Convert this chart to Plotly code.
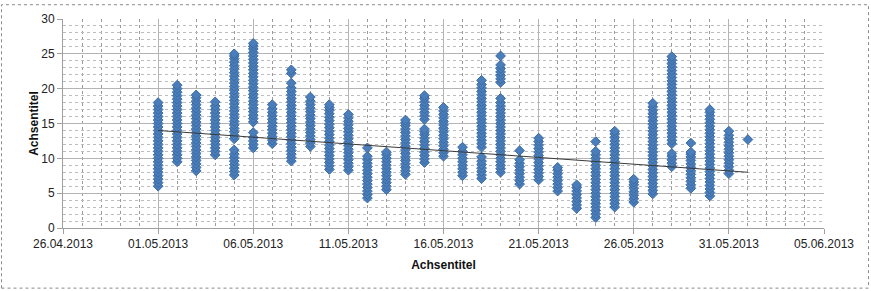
import plotly.graph_objects as go

# ---- data ----
day_labels = ["2013-05-01", "2013-05-02", "2013-05-03", "2013-05-04", "2013-05-05",
              "2013-05-06", "2013-05-07", "2013-05-08", "2013-05-09", "2013-05-10",
              "2013-05-11", "2013-05-12", "2013-05-13", "2013-05-14", "2013-05-15",
              "2013-05-16", "2013-05-17", "2013-05-18", "2013-05-19", "2013-05-20",
              "2013-05-21", "2013-05-22", "2013-05-23", "2013-05-24", "2013-05-25",
              "2013-05-26", "2013-05-27", "2013-05-28", "2013-05-29", "2013-05-30",
              "2013-05-31", "2013-06-01"]

v_0105 = [6.0, 6.5, 7.0, 7.5, 8.0, 8.5, 9.0, 9.5, 10.0, 10.5, 11.0, 11.5, 12.0, 12.5, 13.0, 13.5,
          14.0, 14.5, 15.0, 15.5, 16.0, 16.5, 17.0, 17.5, 18.0]
v_0205 = [9.5, 10.0, 10.5, 11.0, 11.5, 12.0, 12.5, 13.0, 13.5, 14.0, 14.5, 15.0, 15.5, 16.0, 16.5,
          17.0, 17.5, 18.0, 18.5, 19.0, 19.5, 20.0, 20.5]
v_0305 = [8.2, 8.7, 9.2, 9.7, 10.2, 10.7, 11.2, 11.7, 12.2, 12.7, 13.2, 13.7, 14.2, 14.7, 15.2,
          15.7, 16.2, 16.7, 17.2, 17.7, 18.2, 18.7, 19.1]
v_0405 = [10.5, 11.0, 11.5, 12.0, 12.5, 13.0, 13.5, 14.0, 14.5, 15.0, 15.5, 16.0, 16.5, 17.0,
          17.5, 18.1]
v_0505 = [7.6, 8.1, 8.6, 9.1, 9.6, 10.1, 10.6, 11.2, 12.8, 13.3, 13.8, 14.3, 14.8, 15.3, 15.8,
          16.3, 16.8, 17.3, 17.8, 18.3, 18.8, 19.3, 19.8, 20.3, 20.8, 21.3, 21.8, 22.3, 22.8,
          23.3, 23.8, 24.3, 24.7, 25.0]
v_0605 = [11.5, 12.0, 12.5, 13.0, 13.7, 15.2, 15.7, 16.2, 16.7, 17.2, 17.7, 18.2, 18.7, 19.2,
          19.7, 20.2, 20.7, 21.2, 21.7, 22.2, 22.7, 23.2, 23.7, 24.2, 24.7, 25.2, 25.7, 26.1, 26.5]
v_0705 = [12.1, 12.6, 13.1, 13.6, 14.1, 14.6, 15.1, 15.6, 16.1, 16.6, 17.1, 17.7]
v_0805 = [9.6, 10.1, 10.6, 11.1, 11.6, 12.1, 12.6, 13.1, 13.6, 14.1, 14.6, 15.1, 15.6, 16.1,
          16.6, 17.1, 17.6, 18.1, 18.6, 19.1, 19.6, 20.1, 20.8, 22.2, 22.7]
v_0905 = [11.7, 12.2, 12.7, 13.2, 13.7, 14.2, 14.7, 15.2, 15.7, 16.2, 16.7, 17.2, 17.7, 18.2, 18.8]
v_1005 = [8.4, 8.9, 9.4, 9.9, 10.4, 10.9, 11.4, 11.9, 12.4, 12.9, 13.4, 13.9, 14.4, 14.9, 15.4,
          15.9, 16.4, 16.9, 17.3, 17.7]
v_1105 = [8.3, 8.8, 9.3, 9.8, 10.3, 10.8, 11.3, 11.8, 12.3, 12.8, 13.3, 13.8, 14.3, 14.8, 15.3,
          15.8, 16.3]
v_1205 = [4.3, 4.8, 5.3, 5.8, 6.3, 6.8, 7.3, 7.8, 8.3, 8.8, 9.3, 9.8, 10.3, 11.5]
v_1305 = [5.5, 6.0, 6.5, 7.0, 7.5, 8.0, 8.5, 9.0, 9.5, 10.0, 10.5, 10.9]
v_1405 = [7.7, 8.2, 8.7, 9.2, 9.7, 10.2, 10.7, 11.2, 11.7, 12.2, 12.7, 13.2, 13.7, 14.2, 14.7,
          15.1, 15.5]
v_1505 = [9.4, 9.9, 10.4, 10.9, 11.4, 11.9, 12.4, 12.9, 13.4, 13.8, 14.2, 15.6, 16.1, 16.6,
          17.1, 17.6, 18.1, 18.6, 19.0]
v_1605 = [10.3, 10.8, 11.3, 11.8, 12.3, 12.8, 13.3, 13.8, 14.3, 14.8, 15.3, 15.8, 16.3, 16.8, 17.3]
v_1705 = [7.5, 8.0, 8.5, 9.0, 9.5, 10.0, 10.5, 11.0, 11.6]
v_1805 = [7.1, 7.6, 8.1, 8.6, 9.1, 9.6, 10.2, 11.6, 12.1, 12.6, 13.1, 13.6, 14.1, 14.6, 15.1,
          15.6, 16.1, 16.6, 17.1, 17.6, 18.1, 18.6, 19.1, 19.6, 20.1, 20.6, 21.2]
v_1905 = [8.0, 8.5, 9.0, 9.5, 10.0, 10.5, 11.0, 11.5, 12.0, 12.5, 13.0, 13.5, 14.0, 14.5, 15.0,
          15.5, 16.0, 16.5, 17.0, 17.5, 18.0, 18.6, 20.9, 21.4, 21.9, 22.4, 22.9, 23.4, 24.7]
v_2005 = [6.3, 6.8, 7.3, 7.8, 8.3, 8.8, 9.3, 9.8, 11.1]
v_2105 = [6.9, 7.4, 7.9, 8.4, 8.9, 9.4, 9.9, 10.4, 10.9, 11.4, 11.9, 12.4, 12.9]
v_2205 = [5.3, 5.8, 6.3, 6.8, 7.3, 7.8, 8.3, 8.7]
v_2305 = [2.8, 3.3, 3.8, 4.3, 4.8, 5.3, 5.8, 6.2]
v_2405 = [1.5, 2.0, 2.5, 3.0, 3.5, 4.0, 4.5, 5.0, 5.5, 6.0, 6.5, 7.0, 7.5, 8.0, 8.5, 9.0, 9.5,
          10.0, 10.5, 11.0, 12.4]
v_2505 = [3.0, 3.5, 4.0, 4.5, 5.0, 5.5, 6.0, 6.5, 7.0, 7.5, 8.0, 8.5, 9.0, 9.5, 10.0, 10.5, 11.0,
          11.5, 12.0, 12.5, 13.0, 13.5, 13.9]
v_2605 = [3.7, 4.2, 4.7, 5.2, 5.7, 6.2, 6.6, 7.0]
v_2705 = [4.9, 5.4, 5.9, 6.4, 6.9, 7.4, 7.9, 8.4, 8.9, 9.4, 9.9, 10.4, 10.9, 11.4, 11.9, 12.4,
          12.9, 13.4, 13.9, 14.4, 14.9, 15.4, 15.9, 16.4, 16.9, 17.4, 17.9]
v_2805 = [8.8, 9.3, 9.8, 10.3, 10.7, 12.1, 12.6, 13.1, 13.6, 14.1, 14.6, 15.1, 15.6, 16.1, 16.6,
          17.1, 17.6, 18.1, 18.6, 19.1, 19.6, 20.1, 20.6, 21.1, 21.6, 22.1, 22.6, 23.1, 23.6,
          24.1, 24.6]
v_2905 = [5.7, 6.2, 6.7, 7.2, 7.7, 8.2, 8.7, 9.2, 9.7, 10.2, 10.6, 10.9, 12.2]
v_3005 = [4.6, 5.1, 5.6, 6.1, 6.6, 7.1, 7.6, 8.1, 8.6, 9.1, 9.6, 10.1, 10.6, 11.1, 11.6, 12.1,
          12.6, 13.1, 13.6, 14.1, 14.6, 15.1, 15.6, 16.1, 16.6, 17.0]
v_3105 = [7.8, 8.3, 8.8, 9.3, 9.8, 10.3, 10.8, 11.3, 11.8, 12.3, 12.8, 13.3, 13.9]
v_0106 = [12.7]

day_values = [v_0105, v_0205, v_0305, v_0405, v_0505, v_0605, v_0705, v_0805, v_0905, v_1005,
              v_1105, v_1205, v_1305, v_1405, v_1505, v_1605, v_1705, v_1805, v_1905, v_2005,
              v_2105, v_2205, v_2305, v_2405, v_2505, v_2605, v_2705, v_2805, v_2905, v_3005,
              v_3105, v_0106]

trend_x = ["2013-05-01", "2013-06-01"]
trend_y = [14.0, 8.0]

x_range = ["2013-04-26", "2013-06-05"]

# ---- build point lists ----
xs, ys = [], []
for d, vals in zip(day_labels, day_values):
    for v in vals:
        xs.append(d)
        ys.append(v)

FONT = "Liberation Sans, Arial, sans-serif"
DAY = 86400000

fig = go.Figure()
fig.add_trace(go.Scatter(
    x=xs, y=ys, mode="markers",
    marker=dict(symbol="diamond", size=7.5, color="#4a7ebb",
                line=dict(color="#3b6aa3", width=1)),
    showlegend=False, hoverinfo="x+y"))
fig.add_trace(go.Scatter(
    x=trend_x, y=trend_y, mode="lines",
    line=dict(color="#3a3a3a", width=1), showlegend=False))

fig.update_layout(
    width=871, height=291,
    margin=dict(l=63, r=47, t=16, b=63),
    paper_bgcolor="white", plot_bgcolor="white",
    font=dict(family=FONT, size=12, color="#222222"),
    shapes=[dict(type="rect", xref="paper", yref="paper",
                 x0=-0.0808, x1=1.0585, y0=-0.2877, y1=1.0684,
                 line=dict(color="#8a8a8a", width=1, dash="dot"),
                 layer="below")],
)
fig.update_xaxes(
    type="date", range=x_range,
    tick0="2013-04-26", dtick=5 * DAY, tickformat="%d.%m.%Y",
    showgrid=True, gridcolor="#b4b4b4", gridwidth=1,
    showline=True, linecolor="#a0a0a0", linewidth=1,
    ticks="outside", ticklen=5, tickcolor="#a0a0a0",
    tickfont=dict(size=12, color="#222222"),
    minor=dict(dtick=DAY, tick0="2013-04-26", showgrid=True,
               gridcolor="#9a9a9a", griddash="dot", gridwidth=1),
    title=dict(text="<b>Achsentitel</b>", font=dict(size=12, color="#111111"), standoff=10),
    zeroline=False,
)
fig.update_yaxes(
    range=[0, 30], dtick=5, tick0=0,
    showgrid=True, gridcolor="#b4b4b4", gridwidth=1,
    showline=True, linecolor="#a0a0a0", linewidth=1,
    ticks="outside", ticklen=5, tickcolor="#a0a0a0",
    tickfont=dict(size=12, color="#222222"),
    minor=dict(dtick=1, showgrid=True, gridcolor="#bdbdbd", griddash="dot", gridwidth=1),
    title=dict(text="<b>Achsentitel</b>", font=dict(size=12, color="#111111"), standoff=0),
    zeroline=False,
)

fig.write_html("out.html")
